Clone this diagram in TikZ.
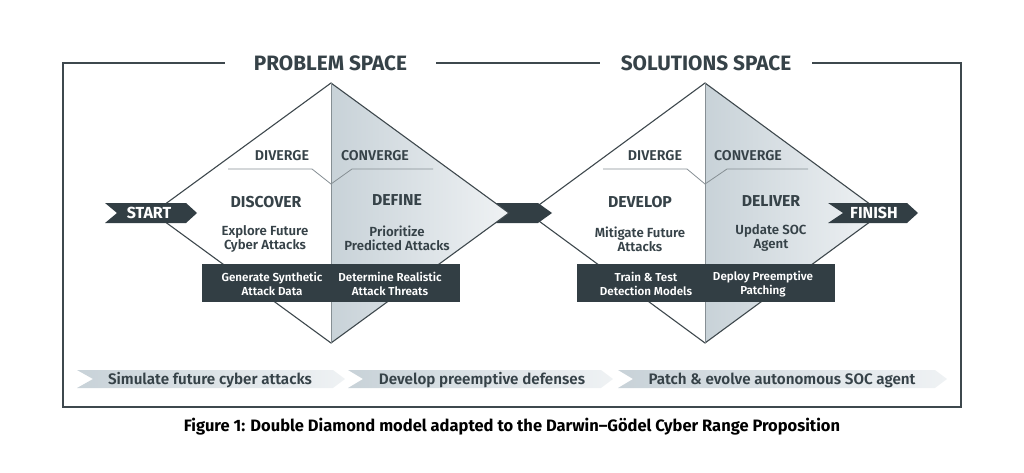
\documentclass[tikz,border=0pt]{standalone}
\usepackage{fontspec}
\setmainfont{Fira Sans}[BoldFont={* SemiBold}]
\newfontfamily\heavyfont{Fira Sans}
\usetikzlibrary{positioning}

\definecolor{slate}{HTML}{323E44}
\definecolor{ink}{HTML}{364248}
\definecolor{rule}{HTML}{3E484D}
\definecolor{thin}{HTML}{868F94}
\definecolor{paleA}{HTML}{C8D2D8}
\definecolor{paleB}{HTML}{EFF2F4}

\tikzset{
  frameline/.style={draw=rule, line width=1.3pt},
  edgeline/.style={draw=rule, line width=1.1pt},
  midline/.style={draw=thin, line width=0.9pt},
  splitline/.style={draw=thin, line width=0.8pt},
  title/.style={font=\heavyfont\fontsize{20.8}{22}\selectfont\bfseries, text=ink, minimum width=211pt, inner xsep=0pt},
  phase/.style={font=\fontsize{14.2}{15}\selectfont\bfseries, text=ink},
  stage/.style={font=\heavyfont\fontsize{15.8}{17}\selectfont\bfseries, text=ink},
  goal/.style={font=\fontsize{13.2}{13.8}\selectfont\bfseries, text=ink, align=center, inner sep=0pt},
  taskbar/.style={fill=slate, minimum width=258pt, minimum height=38pt, inner sep=0pt},
  task/.style={font=\fontsize{11.6}{13.4}\selectfont\bfseries, text=white, align=center, inner sep=0pt},
  tag/.style={font=\heavyfont\fontsize{16}{17}\selectfont\bfseries, text=white},
  band/.style={font=\fontsize{15.2}{16}\selectfont\bfseries, text=ink},
  caption/.style={font=\heavyfont\fontsize{16.5}{18}\selectfont\bfseries, text=black}
}

\begin{document}
\begin{tikzpicture}[x=1pt,y=-1pt]
  \useasboundingbox (0,0) rectangle (1024,473);

  % frame and the two space titles
  \node[title] (ps) at (330.5,63) {PROBLEM SPACE};
  \node[title] (ss) at (706,63) {SOLUTIONS SPACE};
  \draw[frameline] (ps.west) -- (63,63) -- (63,407) -- (961,407) -- (961,63) -- (ss.east);
  \draw[frameline] (ps.east) -- (ss.west);

  % corners of the diamonds
  \coordinate (t1) at (331,83);
  \coordinate (l1) at (153,213);
  \coordinate (b1) at (331,343);
  \coordinate (r1) at (509,213);
  \coordinate (t2) at (705,83);
  \coordinate (l2) at (528,213);
  \coordinate (b2) at (705,343);
  \coordinate (r2) at (882,213);

  % second diamond
  \fill[white] (t2) -- (l2) -- (b2) -- cycle;
  \shade[left color=paleA, right color=paleB] (t2) -- (r2) -- (b2) -- cycle;
  \draw[edgeline] (t2) -- (l2) -- (b2) -- (r2) -- cycle;
  \draw[midline] (t2) -- (b2);

  % link between the diamonds
  \fill[slate] (485,203) -- (538,203) -- (552,213) -- (538,223) -- (485,223) -- cycle;

  % first diamond
  \fill[white] (t1) -- (l1) -- (b1) -- cycle;
  \shade[left color=paleA, right color=paleB] (t1) -- (r1) -- (b1) -- cycle;
  \draw[edgeline] (t1) -- (l1) -- (b1) -- (r1) -- cycle;
  \draw[midline] (t1) -- (b1);

  % diverge / converge
  \draw[splitline] (228,169) -- (312,169) -- (331,184) -- (352,169) -- (433,169);
  \draw[splitline] (603,169) -- (687,169) -- (705,184) -- (727,169) -- (808,169);
  \node[phase] (dv1) at (282,156) {DIVERGE};
  \node[phase] (cv1) at (375,156) {CONVERGE};
  \node[phase] (dv2) at (655,156) {DIVERGE};
  \node[phase] (cv2) at (748,156) {CONVERGE};

  % stages
  \node[stage] (disc) at (266,202.5) {DISCOVER};
  \node[stage] (defi) at (397,200.5) {DEFINE};
  \node[stage] (deve) at (640,202.5) {DEVELOP};
  \node[stage] (deli) at (771,201) {DELIVER};

  \node[goal] (g1) at (265,239) {Explore Future\\Cyber Attacks};
  \node[goal] (g2) at (397,238) {Prioritize\\Predicted Attacks};
  \node[goal] (g3) at (640,239) {Mitigate Future\\Attacks};
  \node[goal] (g4) at (771,238) {Update SOC\\Agent};

  % task bars
  \node[taskbar] (bar1) at (331,283) {};
  \node[taskbar] (bar2) at (705.5,283) {};
  \node[task] (k1) at (272,284) {Generate Synthetic\\Attack Data};
  \node[task] (k2) at (390,284) {Determine Realistic\\Attack Threats};
  \node[task] (k3) at (646,284) {Train \& Test\\Detection Models};
  \node[task] (k4) at (763,284) {Deploy Preemptive\\Patching};

  % start and finish
  \fill[slate] (105,203) -- (186,203) -- (197,213) -- (186,223) -- (105,223) -- (117,213) -- cycle;
  \node[tag] (start) at (149,213) {START};
  \fill[slate] (828,203) -- (907,203) -- (918,213) -- (907,223) -- (828,223) -- (843,213) -- cycle;
  \node[tag] (finish) at (874,213) {FINISH};

  % bottom bands
  \shade[left color=paleA, right color=paleB] (77,370) -- (333,370) -- (345,379) -- (333,388) -- (77,388) -- (93,379) -- cycle;
  \shade[left color=paleA, right color=paleB] (348,370) -- (601,370) -- (613,379) -- (601,388) -- (348,388) -- (363,379) -- cycle;
  \shade[left color=paleA, right color=paleB] (618,370) -- (935,370) -- (947,379) -- (935,388) -- (618,388) -- (633,379) -- cycle;
  \node[band] (s1) at (210,380) {Simulate future cyber attacks};
  \node[band] (s2) at (482,380) {Develop preemptive defenses};
  \node[band] (s3) at (782,380) {Patch \& evolve autonomous SOC agent};

  % caption
  \node[caption] (cap) at (512,427) {Figure 1: Double Diamond model adapted to the Darwin–Gödel Cyber Range Proposition};
\end{tikzpicture}
\end{document}
